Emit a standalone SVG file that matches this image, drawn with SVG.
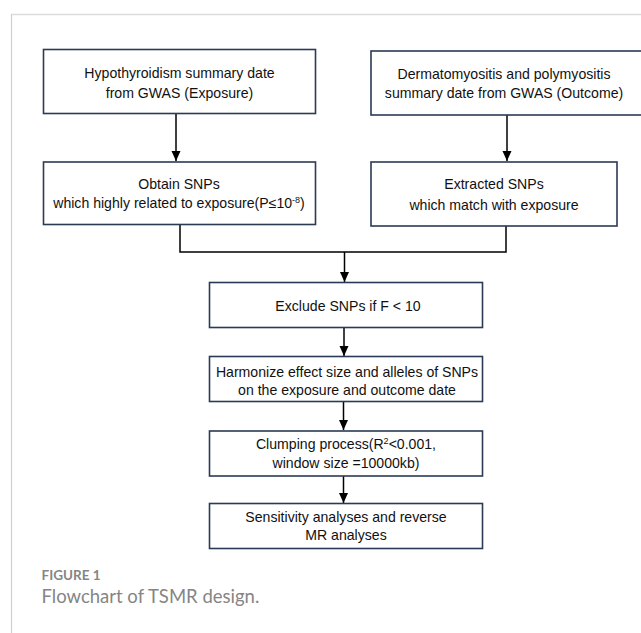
<svg xmlns="http://www.w3.org/2000/svg" width="641" height="633" viewBox="0 0 641 633">
<style>
.box{fill:#fff;stroke:#2b3a55;stroke-width:1.6}
.t{font-family:"Liberation Sans",Arial,sans-serif;font-size:14.1px;fill:#111;text-anchor:middle}
.c{fill:none;stroke:#000;stroke-width:1.5}
.sup{font-size:9px}
</style>
<defs>
<marker id="ah" markerWidth="10" markerHeight="10" viewBox="0 0 10 10" refX="10" refY="5" orient="auto" markerUnits="userSpaceOnUse">
<path d="M0,0.5 L10,5 L0,9.5 Z" fill="#000"/>
</marker>
</defs>
<rect width="641" height="633" fill="#fff"/>
<g id="frame">
<line x1="11" y1="14.5" x2="641" y2="14.5" stroke="#dcdcdc" stroke-width="1.5"/>
<line x1="11.5" y1="14" x2="11.5" y2="633" stroke="#cfcfcf" stroke-width="1.2"/>
</g>
<g id="connectors">
<line class="c" x1="176" y1="113" x2="176" y2="161" marker-end="url(#ah)"/>
<line class="c" x1="507" y1="115" x2="507" y2="161" marker-end="url(#ah)"/>
<polyline class="c" points="180,225 180,252 506,252 506,226"/>
<line class="c" x1="344.5" y1="252" x2="344.5" y2="282" marker-end="url(#ah)"/>
<line class="c" x1="344" y1="328" x2="344" y2="356" marker-end="url(#ah)"/>
<line class="c" x1="343.5" y1="402" x2="343.5" y2="430" marker-end="url(#ah)"/>
<line class="c" x1="343.5" y1="476" x2="343.5" y2="503" marker-end="url(#ah)"/>
</g>
<g id="n1">
<rect class="box" x="43.5" y="49.5" width="272" height="64"/>
<text class="t" x="179.5" y="77.5">Hypothyroidism summary date</text>
<text class="t" x="179.5" y="97.5">from GWAS (Exposure)</text>
</g>
<g id="n2">
<rect class="box" x="371" y="51" width="275" height="64"/>
<text class="t" x="504" y="78.5">Dermatomyositis and polymyositis</text>
<text class="t" x="504" y="98">summary date from GWAS (Outcome)</text>
</g>
<g id="n3">
<rect class="box" x="43.5" y="162" width="272" height="62.5"/>
<text class="t" x="179" y="188.5">Obtain SNPs</text>
<text class="t" x="179" y="208">which highly related to exposure(P≤10<tspan class="sup" dy="-5">-8</tspan><tspan dy="5">)</tspan></text>
</g>
<g id="n4">
<rect class="box" x="371" y="162" width="246" height="64"/>
<text class="t" x="494" y="189">Extracted SNPs</text>
<text class="t" x="494" y="209.5">which match with exposure</text>
</g>
<g id="n5">
<rect class="box" x="209.5" y="282.5" width="273" height="45"/>
<text class="t" x="348" y="311">Exclude SNPs if F &lt; 10</text>
</g>
<g id="n6">
<rect class="box" x="209.5" y="356.5" width="273" height="45"/>
<text class="t" x="347" y="376.5">Harmonize effect size and alleles of SNPs</text>
<text class="t" x="347" y="395">on the exposure and outcome date</text>
</g>
<g id="n7">
<rect class="box" x="209.5" y="431" width="273" height="45"/>
<text class="t" x="346" y="448.5">Clumping process(R<tspan class="sup" dy="-5">2</tspan><tspan dy="5">&lt;0.001,</tspan></text>
<text class="t" x="346" y="467.5">window size =10000kb)</text>
</g>
<g id="n8">
<rect class="box" x="209.5" y="503.5" width="273" height="45"/>
<text class="t" x="346" y="521.5">Sensitivity analyses and reverse</text>
<text class="t" x="346" y="540">MR analyses</text>
</g>
<g id="caption">
<text x="41.5" y="580" font-family="Lato,'Open Sans',sans-serif" font-size="13.5px" font-weight="bold" fill="#858585">FIGURE 1</text>
<text x="41.5" y="603" font-family="Lato,'Open Sans',sans-serif" font-size="18.5px" fill="#858585">Flowchart of TSMR design.</text>
</g>
</svg>
